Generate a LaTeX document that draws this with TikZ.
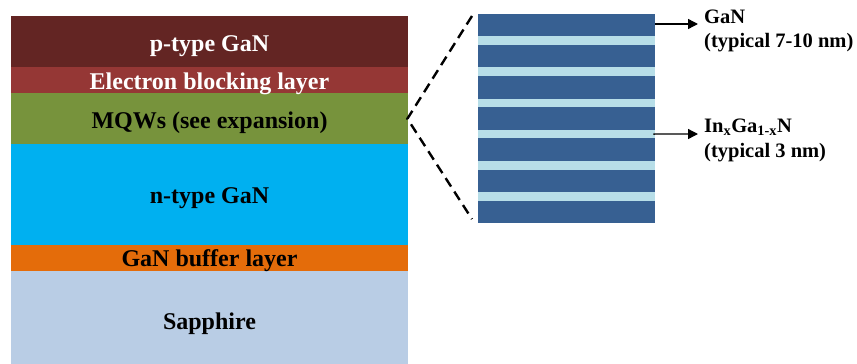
\documentclass[tikz,border=0pt]{standalone}
\usepackage{fontspec}
\setmainfont{Liberation Serif}
\usetikzlibrary{arrows.meta}
\definecolor{pgan}{HTML}{632523}
\definecolor{ebl}{HTML}{953735}
\definecolor{mqwc}{HTML}{77933C}
\definecolor{ngan}{HTML}{00B0F0}
\definecolor{bufc}{HTML}{E46C0A}
\definecolor{sapc}{HTML}{B9CDE5}
\definecolor{qwdark}{HTML}{376092}
\definecolor{qwlight}{HTML}{B7DEE8}
\tikzset{
  layer/.style={draw=none, rectangle, inner sep=0pt, minimum width=397pt, anchor=north west},
  layertext/.style={anchor=base, inner sep=0pt, font=\fontsize{24}{28}\selectfont\bfseries},
  lightstripe/.style={draw=none, fill=qwlight, rectangle, inner sep=0pt, minimum width=177pt, minimum height=8.5pt, anchor=north west},
  sidetext/.style={anchor=base west, inner sep=0pt, font=\fontsize{20.5}{24}\selectfont\bfseries},
  zoomline/.style={dash pattern=on 10pt off 6pt, line width=2.4pt},
  pointer/.style={line width=1.4pt, -{Triangle[length=10pt,width=10pt]}}
}
\begin{document}
\begin{tikzpicture}[x=1pt,y=-1pt]
\useasboundingbox (0,0) rectangle (857,364);
% epitaxial layer stack
\node[layer, fill=pgan, minimum height=51pt] (ptype) at (11,16) {};
\node[layer, fill=ebl, minimum height=26pt] (eblock) at (11,67) {};
\node[layer, fill=mqwc, minimum height=51pt] (mqw) at (11,93) {};
\node[layer, fill=ngan, minimum height=101pt] (ntype) at (11,144) {};
\node[layer, fill=bufc, minimum height=26pt] (buffer) at (11,245) {};
\node[layer, fill=sapc, minimum height=93pt] (sapphire) at (11,271) {};
% layer names
\node[layertext, text=white] (tp) at (209.5,51.5) {p-type GaN};
\node[layertext, text=white] (te) at (209.5,89) {Electron blocking layer};
\node[layertext] (tm) at (209.5,128) {MQWs (see expansion)};
\node[layertext] (tn) at (209.5,203) {n-type GaN};
\node[layertext] (tb) at (209.5,266.5) {GaN buffer layer};
\node[layertext] (ts) at (209.5,329) {Sapphire};
% expanded quantum-well stack
\node[layer, fill=qwdark, minimum width=177pt, minimum height=208.7pt] (qw) at (478,14) {};
\foreach \i in {1,...,6}{
  \node[lightstripe] (l\i) at (478,{36+31.2*(\i-1)}) {};
}
% zoom lines
\draw[zoomline] ([xshift=-6pt,yshift=-2pt]qw.north west) -- ([xshift=-1pt]mqw.east) -- ([xshift=-6pt,yshift=4pt]qw.south west);
% annotations
\coordinate (gtip) at (698,24);
\coordinate (itip) at (698,134);
\draw[pointer] ([yshift=-10pt]qw.north east) -- (gtip);
\draw[pointer] ([xshift=-2pt]l4.east) -- (itip);
\node[sidetext] (g1) at (704,23.3) {GaN};
\node[sidetext] (g2) at (704,47) {(typical 7-10 nm)};
\node[sidetext] (i1) at (704,132) {In\textsubscript{x}Ga\textsubscript{1-x}N};
\node[sidetext] (i2) at (704,157) {(typical 3 nm)};
\end{tikzpicture}
\end{document}
